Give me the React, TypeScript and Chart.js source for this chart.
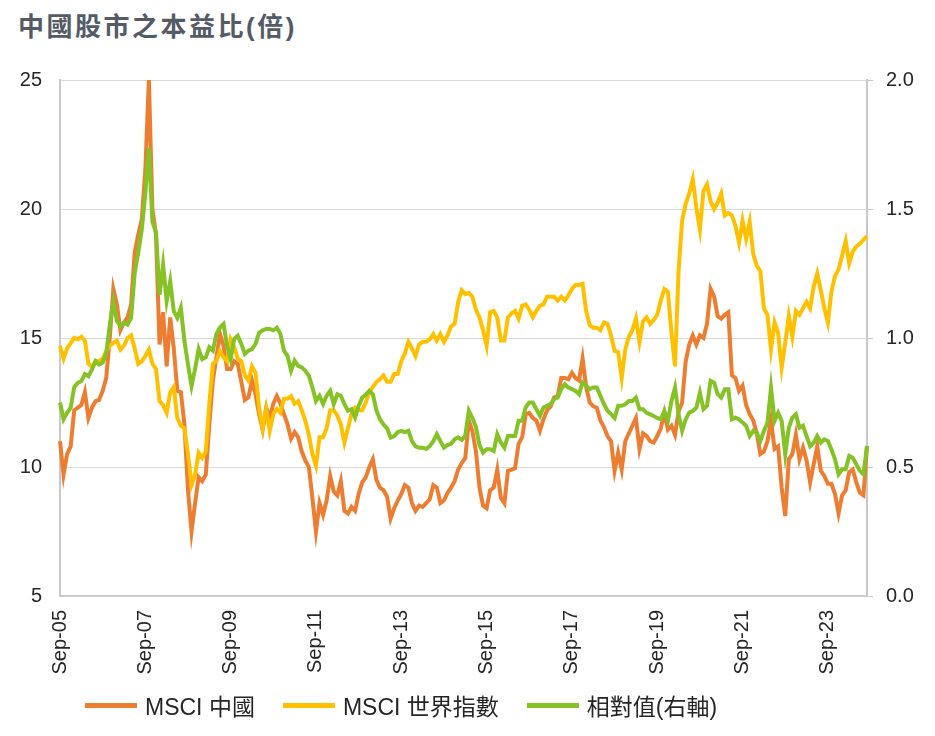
import React, { useEffect, useRef } from "react";
import { Chart, registerables } from "chart.js";

Chart.register(...registerables);

// MSCI 中國 本益比 (left axis), monthly from Sep-05
const chinaPE: number[] = [
  11.0, 9.7, 10.5, 10.8, 12.2, 12.3, 12.4, 12.9, 11.9, 12.3,
  12.55, 12.6, 12.95, 13.45, 15.0, 16.9, 16.3, 15.3, 15.6, 15.8,
  16.3, 18.3, 19.0, 19.6, 21.5, 25.0, 20.0, 19.0, 14.75, 16.0,
  13.9, 15.8, 14.6, 12.95, 12.9, 11.65, 9.1, 7.5, 8.6, 9.6,
  9.45, 9.7, 11.65, 13.35, 14.25, 15.15, 14.7, 13.8, 13.8, 14.1,
  14.0, 13.3, 12.6, 12.7, 13.35, 12.8, 12.05, 11.45, 12.3, 11.9,
  12.45, 12.75, 12.45, 12.05, 11.65, 11.1, 11.35, 11.15, 10.6, 10.25,
  10.0, 8.8, 7.5, 8.6, 8.15, 8.7, 9.65, 9.05, 8.9, 9.45,
  8.3, 8.2, 8.45, 8.3, 8.95, 9.4, 9.6, 10.0, 10.3, 9.5,
  9.2, 9.1, 8.85, 8.0, 8.4, 8.7, 8.95, 9.3, 9.2, 8.6,
  8.3, 8.5, 8.45, 8.6, 8.75, 9.3, 9.2, 8.6, 8.7, 9.0,
  9.2, 9.45, 9.9, 10.15, 10.35, 11.8, 11.4, 10.6, 9.2, 8.5,
  8.4, 9.1, 9.2, 9.9, 8.8, 8.6, 9.85, 9.9, 9.95, 10.9,
  11.15, 12.05, 12.1, 11.9, 11.8, 11.4, 11.85, 12.2, 12.35, 12.7,
  12.75, 13.45, 13.45, 13.4, 13.65, 13.45, 13.35, 14.2, 13.1, 12.5,
  12.35, 12.3, 11.8, 11.55, 11.2, 11.0, 9.85, 10.55, 9.9, 11.0,
  11.3, 11.6, 11.9, 10.7, 11.3, 11.2, 11.0, 10.95, 11.2, 11.5,
  12.1, 11.45, 11.6, 11.25, 12.15, 12.5, 14.1, 14.75, 15.1, 14.75,
  15.1, 15.0, 15.55, 16.9, 16.6, 15.85, 15.75, 15.9, 16.0, 13.55,
  13.45, 12.95, 13.15, 12.4, 12.05, 11.8, 11.3, 10.5, 10.6, 11.0,
  11.8, 10.7, 10.8, 9.2, 8.1, 10.3, 10.5, 11.25, 10.3, 10.75,
  10.25, 9.4, 10.1, 10.8, 9.85, 9.65, 9.35, 9.35, 8.95, 8.2,
  8.9, 9.1, 9.8, 9.9, 9.4, 9.0, 8.9, 10.8,
];

// MSCI 世界指數 本益比 (left axis)
const worldPE: number[] = [
  14.7, 14.2, 14.6, 14.8, 15.0, 14.95, 15.05, 14.9, 14.0, 13.9,
  14.1, 14.1, 14.2, 14.5, 14.7, 14.8, 14.9, 14.55, 14.7, 15.0,
  15.1, 14.6, 14.0, 14.1, 14.3, 14.55, 14.0, 13.8, 12.55, 12.4,
  12.1, 12.9, 13.1, 11.9, 11.6, 11.5, 10.5, 9.3, 9.7, 10.55,
  10.35, 10.6, 12.45, 14.0, 14.1, 14.5, 14.25, 14.1, 14.95, 14.65,
  14.2, 14.1, 13.55, 13.35, 13.9, 13.65, 12.3, 11.5, 12.25, 11.4,
  12.05, 12.25, 12.1, 12.65, 12.65, 12.75, 12.45, 12.55, 12.2, 11.8,
  11.25, 10.5, 10.05, 11.15, 11.15, 11.5, 12.2, 12.2, 12.0, 11.65,
  10.95, 11.5, 12.05, 12.3, 12.2, 12.2, 12.5, 12.9, 13.1, 13.3,
  13.4, 13.55, 13.3, 13.3, 13.6, 13.6, 14.1, 14.4, 14.85, 14.6,
  14.3, 14.75, 14.85, 14.85, 14.95, 15.15, 14.9, 15.15, 14.85, 15.1,
  15.45, 15.55, 16.4, 16.85, 16.7, 16.75, 16.6, 16.1, 15.8, 15.3,
  14.7, 16.0, 16.05, 15.8, 14.9, 14.9, 15.8, 15.95, 16.05, 15.75,
  16.25, 16.3, 16.1, 15.8, 16.05, 16.25, 16.3, 16.6, 16.6, 16.6,
  16.45, 16.6, 16.45, 16.65, 16.9, 17.05, 17.05, 17.1, 16.05, 15.5,
  15.4, 15.4, 15.3, 15.6, 15.55, 15.1, 14.5, 14.45, 13.45, 14.55,
  15.05, 15.3, 15.75, 14.85, 15.65, 15.8, 15.55, 15.7, 15.9, 16.45,
  16.9, 16.8, 15.2, 13.9, 17.6, 19.55, 20.2, 20.6, 21.15, 20.05,
  19.2, 20.7, 20.95, 20.3, 20.0, 20.25, 20.6, 19.75, 19.85, 19.75,
  19.35, 18.7, 19.55, 18.85, 19.5, 18.25, 17.8, 17.6, 16.15, 15.9,
  14.55, 15.6, 15.2, 13.85, 14.8, 15.85, 15.05, 16.05, 15.9, 16.15,
  16.4, 16.15, 17.0, 17.5, 16.85, 16.15, 15.6, 16.8, 17.4, 17.65,
  18.2, 18.75, 17.9, 18.35, 18.55, 18.65, 18.8, 18.95,
];

// 相對值 (right axis)
const relative: number[] = [
  0.75, 0.685, 0.71, 0.73, 0.81, 0.826, 0.833, 0.86, 0.852, 0.878,
  0.91, 0.897, 0.905, 0.94, 1.05, 1.143, 1.065, 1.046, 1.059, 1.052,
  1.078, 1.25, 1.33, 1.42, 1.56, 1.736, 1.45, 1.41, 1.168, 1.284,
  1.143, 1.22, 1.104, 1.078, 1.117, 0.988, 0.897, 0.814, 0.88, 0.957,
  0.918, 0.925, 0.964, 0.951, 1.016, 1.041, 1.054, 0.97, 0.918, 0.996,
  1.009, 0.977, 0.938, 0.951, 0.957, 0.977, 1.02, 1.03, 1.035, 1.035,
  1.03, 1.04, 1.016, 0.951, 0.931, 0.873, 0.912, 0.892, 0.886, 0.873,
  0.854, 0.808, 0.756, 0.776, 0.744, 0.776, 0.795, 0.744, 0.782, 0.776,
  0.744, 0.718, 0.724, 0.692, 0.737, 0.769, 0.78, 0.795, 0.782, 0.72,
  0.685, 0.665, 0.65, 0.614, 0.62, 0.635, 0.64, 0.635, 0.64, 0.6,
  0.58, 0.575, 0.575, 0.57, 0.581, 0.6, 0.627, 0.6, 0.575, 0.585,
  0.59, 0.607, 0.615, 0.605, 0.62, 0.718, 0.69, 0.655, 0.585, 0.556,
  0.569, 0.569, 0.562, 0.627, 0.595, 0.575, 0.62, 0.62, 0.62, 0.679,
  0.679, 0.731, 0.75, 0.75, 0.724, 0.698, 0.731, 0.737, 0.744, 0.763,
  0.769, 0.802, 0.821, 0.808, 0.802, 0.795, 0.782, 0.828, 0.815, 0.802,
  0.808, 0.808, 0.776, 0.744, 0.718, 0.705, 0.69, 0.737, 0.737, 0.743,
  0.756, 0.756, 0.769, 0.724, 0.724, 0.71, 0.704, 0.698, 0.69, 0.685,
  0.717, 0.679, 0.756, 0.808, 0.704, 0.64, 0.685, 0.711, 0.717, 0.73,
  0.788, 0.724, 0.737, 0.834, 0.827, 0.782, 0.769, 0.801, 0.801, 0.685,
  0.691, 0.685, 0.672, 0.66, 0.62, 0.64, 0.633, 0.6, 0.64, 0.671,
  0.807, 0.678, 0.71, 0.678, 0.549, 0.652, 0.691, 0.704, 0.652, 0.66,
  0.62, 0.581, 0.594, 0.62, 0.594, 0.607, 0.601, 0.568, 0.53, 0.472,
  0.491, 0.491, 0.543, 0.536, 0.51, 0.485, 0.472, 0.581,
];

const monthNames = ["Jan", "Feb", "Mar", "Apr", "May", "Jun", "Jul", "Aug", "Sep", "Oct", "Nov", "Dec"];
const startYear = 2005;
const startMonthIndex = 8; // Sep

const categories: string[] = chinaPE.map((_, i) => {
  const m = (startMonthIndex + i) % 12;
  const y = (startYear + Math.floor((startMonthIndex + i) / 12)) % 100;
  return `${monthNames[m]}-${String(y).padStart(2, "0")}`;
});

const tickLabels = ["Sep-05", "Sep-07", "Sep-09", "Sep-11", "Sep-13", "Sep-15", "Sep-17", "Sep-19", "Sep-21", "Sep-23"];

const seriesNames = ["MSCI 中國", "MSCI 世界指數", "相對值(右軸)"];
const seriesColors = ["#ED7D31", "#FFC000", "#84C225"];

const leftTicks = [5, 10, 15, 20, 25];
const rightTicks = [0, 0.5, 1.0, 1.5, 2.0];

const FONT = "'Liberation Sans', Arial, 'Noto Sans CJK TC', sans-serif";

export default function App() {
  const canvasRef = useRef<HTMLCanvasElement | null>(null);

  useEffect(() => {
    if (!canvasRef.current) return;
    Chart.defaults.font.family = FONT;
    const chart = new Chart(canvasRef.current, {
      type: "line",
      data: {
        labels: categories,
        datasets: [
          {
            label: seriesNames[0],
            data: chinaPE,
            borderColor: seriesColors[0],
            backgroundColor: seriesColors[0],
            borderWidth: 4,
            pointRadius: 0,
            tension: 0,
            yAxisID: "y",
            order: 3,
          },
          {
            label: seriesNames[1],
            data: worldPE,
            borderColor: seriesColors[1],
            backgroundColor: seriesColors[1],
            borderWidth: 4,
            pointRadius: 0,
            tension: 0,
            yAxisID: "y",
            order: 2,
          },
          {
            label: seriesNames[2],
            data: relative,
            borderColor: seriesColors[2],
            backgroundColor: seriesColors[2],
            borderWidth: 4,
            pointRadius: 0,
            tension: 0,
            yAxisID: "y1",
            order: 1,
          },
        ],
      },
      options: {
        animation: false,
        responsive: false,
        devicePixelRatio: 1,
        layout: { padding: { top: 80, left: 0, right: 0, bottom: 0 } },
        plugins: {
          legend: { display: false },
          title: { display: false },
          tooltip: { enabled: false },
        },
        scales: {
          x: {
            type: "category",
            offset: false,
            grid: { display: false },
            border: { display: true, color: "#c8c8c8", width: 1.5 },
            ticks: {
              autoSkip: false,
              maxRotation: 90,
              minRotation: 90,
              padding: 6,
              color: "#262626",
              font: { size: 20, family: FONT },
              callback: (_v: any, index: number) =>
                tickLabels.includes(categories[index]) ? categories[index] : "",
            },
            afterFit: (scale: any) => {
              scale.height = 140;
            },
          },
          y: {
            position: "left",
            min: leftTicks[0],
            max: leftTicks[leftTicks.length - 1],
            afterBuildTicks: (scale: any) => {
              scale.ticks = leftTicks.map((v) => ({ value: v }));
            },
            grid: { color: "#d9d9d9", lineWidth: 1, drawTicks: false },
            border: { display: true, color: "#c8c8c8", width: 2 },
            ticks: {
              padding: 18,
              color: "#262626",
              font: { size: 20, family: FONT },
              callback: (v: any) => String(v),
            },
            afterFit: (scale: any) => {
              scale.width = 60;
            },
          },
          y1: {
            position: "right",
            min: rightTicks[0],
            max: rightTicks[rightTicks.length - 1],
            afterBuildTicks: (scale: any) => {
              scale.ticks = rightTicks.map((v) => ({ value: v }));
            },
            grid: { drawOnChartArea: false, drawTicks: true, tickLength: 6, color: "#c8c8c8" },
            border: { display: true, color: "#c8c8c8", width: 2 },
            ticks: {
              padding: 13,
              color: "#262626",
              font: { size: 20, family: FONT },
              callback: (v: any) => Number(v).toFixed(1),
            },
            afterFit: (scale: any) => {
              scale.width = 68;
            },
          },
        },
      },
    });
    return () => chart.destroy();
  }, []);

  return (
    <div style={{ position: "relative", width: 935, height: 736, margin: -8, overflow: "hidden", background: "#fff" }}>
      <div
        style={{
          position: "absolute",
          left: 18,
          top: 6,
          fontFamily: FONT,
          fontWeight: 700,
          fontSize: 26,
          letterSpacing: 2.5,
          color: "#535b66",
          whiteSpace: "nowrap",
        }}
      >
        中國股市之本益比(倍)
      </div>
      <canvas ref={canvasRef} width={935} height={736} style={{ position: "absolute", left: 0, top: 0, width: 935, height: 736 }} />
      <div
        style={{
          position: "absolute",
          left: 85,
          top: 688,
          display: "flex",
          alignItems: "center",
          fontFamily: FONT,
          fontSize: 23,
          color: "#262626",
          whiteSpace: "nowrap",
        }}
      >
        {seriesNames.map((name, i) => (
          <div key={name} style={{ display: "flex", alignItems: "center", marginRight: 28 }}>
            <div style={{ width: 52, height: 5, background: seriesColors[i], marginRight: 8 }} />
            <span>{name}</span>
          </div>
        ))}
      </div>
    </div>
  );
}
